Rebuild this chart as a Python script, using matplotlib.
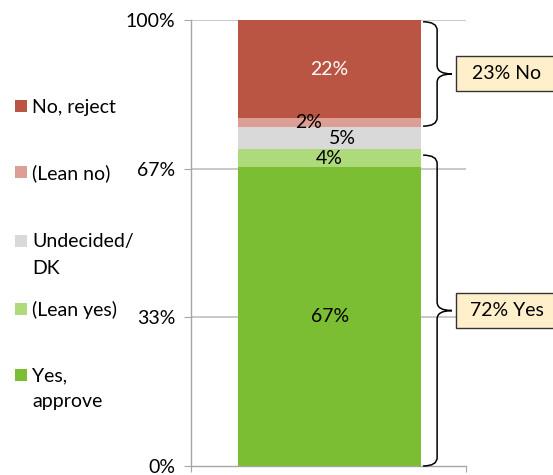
import numpy as np
import matplotlib
matplotlib.use("Agg")
import matplotlib.pyplot as plt
from matplotlib.path import Path
from matplotlib.patches import PathPatch, Rectangle
from matplotlib.transforms import blended_transform_factory

plt.rcParams["font.family"] = ["Lato", "DejaVu Sans"]

# data, bottom to top of the stack
series = ["Yes,\napprove", "(Lean yes)", "Undecided/\nDK", "(Lean no)", "No, reject"]
values = [67, 4, 5, 2, 22]
colors = ["#7BBD33", "#ADDB7B", "#D9D9D9", "#DD9F95", "#BA5443"]
seg_labels = ["67%", "4%", "5%", "2%", "22%"]
label_colors = ["black", "black", "black", "black", "white"]
label_dx = [0.0, 0.0, 0.047, -0.076, 0.0]   # nudges for the thin slices

yticks = [0, 100 / 3, 200 / 3, 100]
ytick_labels = ["0%", "33%", "67%", "100%"]

# bracket groups: (bottom, top, text)
groups = [(0.0, 69.7, "72% Yes"), (76.2, 99.6, "23% No")]

FS = 14
W, H = 553, 475
fig = plt.figure(figsize=(W / 100, H / 100), dpi=100)
ax = fig.add_axes([191 / W, 1 - 466 / H, 275 / W, 446 / H])

ax.set_xlim(-0.5, 0.5)
ax.set_ylim(0, 100)

bottom = 0
for v, c, lab, lc, dx in zip(values, colors, seg_labels, label_colors, label_dx):
    ax.bar(0.004, v, width=0.665, bottom=bottom, color=c, zorder=3)
    ax.text(0.004 + dx, bottom + v / 2, lab, ha="center", va="center",
            color=lc, fontsize=FS, zorder=4)
    bottom += v

# axes cosmetics
ax.set_yticks(yticks)
ax.set_yticklabels(ytick_labels, fontsize=FS)
ax.set_xticks([-0.5, 0.5])
ax.set_xticklabels([])
ax.tick_params(axis="y", length=5, color="#A6A6A6", pad=6.5)
ax.tick_params(axis="x", length=4, color="#A6A6A6", direction="out")
for side in ["top", "right"]:
    ax.spines[side].set_visible(False)
for side in ["left", "bottom"]:
    ax.spines[side].set_color("#A6A6A6")
    ax.spines[side].set_linewidth(1.0)
for t in yticks[1:]:
    ax.axhline(t, color="#BFBFBF", lw=1.2, zorder=1)

# curly brackets and boxed totals
trans = blended_transform_factory(ax.transAxes, ax.transData)
x0, x1, x2 = 0.844, 0.895, 0.949
r = 1.9
box_h = 35 / 446 * 100
for lo, hi, txt in groups:
    mid = (lo + hi) / 2
    verts = [(x0, hi), (x1, hi), (x1, hi - r), (x1, mid + r), (x1, mid), (x2, mid),
             (x2, mid), (x1, mid), (x1, mid - r), (x1, lo + r), (x1, lo), (x0, lo)]
    codes = [Path.MOVETO, Path.CURVE3, Path.CURVE3, Path.LINETO, Path.CURVE3, Path.CURVE3,
             Path.MOVETO, Path.CURVE3, Path.CURVE3, Path.LINETO, Path.CURVE3, Path.CURVE3]
    ax.add_patch(PathPatch(Path(verts, codes), fill=False, lw=1.1, ec="black",
                           transform=trans, clip_on=False, zorder=5))
    ax.add_patch(Rectangle((0.9636, mid - box_h / 2), 0.38, box_h, transform=trans,
                           fc="#FFEFCB", ec="#333333", lw=1, clip_on=False, zorder=5))
    ax.text(1.149, mid, txt, transform=trans, ha="center", va="center", fontsize=FS,
            clip_on=False, zorder=6)

# legend on the left, top to bottom
leg_y = [106, 172.5, 241, 308.5, 375]
for yy, lab, c in zip(leg_y, series[::-1], colors[::-1]):
    fig.patches.append(Rectangle((15 / W, 1 - (yy + 6) / H), 12 / W, 12 / H,
                                 transform=fig.transFigure, fc=c, ec="none"))
    for i, line in enumerate(lab.split("\n")):
        fig.text(32 / W, 1 - (yy + 1 + 26 * i) / H, line, ha="left", va="center",
                 fontsize=FS)

fig.savefig("out.png", dpi=100)
